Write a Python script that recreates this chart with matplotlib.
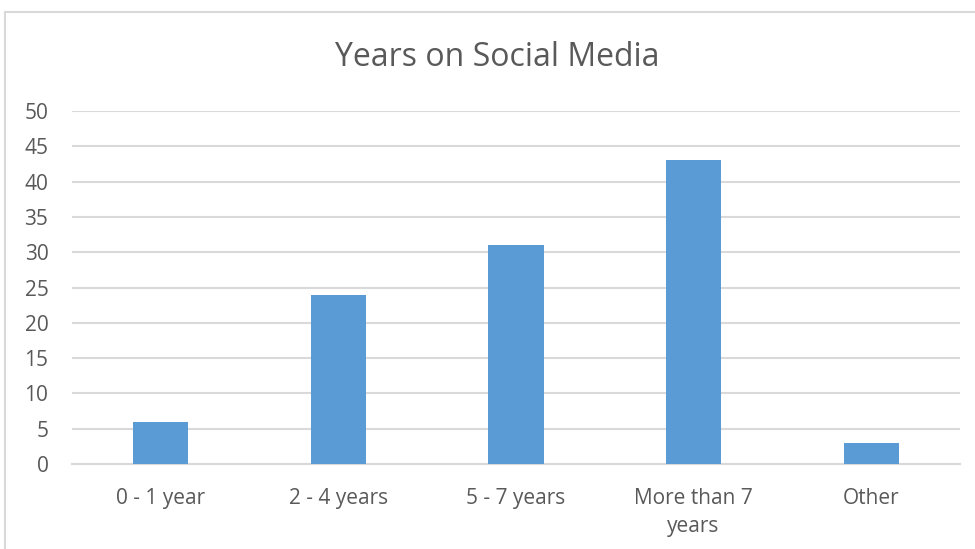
import matplotlib
matplotlib.use("Agg")
import matplotlib.pyplot as plt
from matplotlib.patches import Rectangle

categories = ["0 - 1 year", "2 - 4 years", "5 - 7 years", "More than 7\nyears", "Other"]
values = [6, 24, 31, 43, 3]
yticks = [0, 5, 10, 15, 20, 25, 30, 35, 40, 45, 50]
title = "Years on Social Media"

W, H = 975, 549
fig = plt.figure(figsize=(W/100, H/100), dpi=100)
fig.patch.set_facecolor("white")

# chart border (cut off at right and bottom)
fig.patches.append(Rectangle((4.5/W, -0.1), 2.0, (H-11.5)/H + 0.1, transform=fig.transFigure,
                             fill=False, edgecolor="#d9d9d9", linewidth=1.5))

ax = fig.add_axes([72/W, 85/H, 888/W, 353/H])
x = range(len(categories))
ax.bar(x, values, width=0.31, color="#5B9BD5", zorder=3)
ax.set_xlim(-0.5, len(categories)-0.5)
ax.set_ylim(0, 50)
ax.set_yticks(yticks)
ax.set_xticks(list(x))
ax.set_xticklabels(categories, fontsize=15, color="#595959", family="Open Sans", linespacing=1.45)
ax.set_yticklabels([str(t) for t in yticks], fontsize=15, color="#595959", family="Open Sans")
for s in ["top", "right", "left"]:
    ax.spines[s].set_visible(False)
ax.spines["bottom"].set_color("#d9d9d9")
ax.spines["bottom"].set_linewidth(1.5)
ax.grid(axis="y", color="#d9d9d9", linewidth=1.5, zorder=0)
ax.tick_params(axis="both", length=0)
ax.tick_params(axis="y", pad=17)
ax.tick_params(axis="x", pad=17)
for lbl in ax.get_xticklabels():
    lbl.set_verticalalignment("top")

fig.text(497/W, 1 - 58/H, title, ha="center", va="center", fontsize=23,
         color="#595959", family="Open Sans")

fig.savefig("out.png", dpi=100)
